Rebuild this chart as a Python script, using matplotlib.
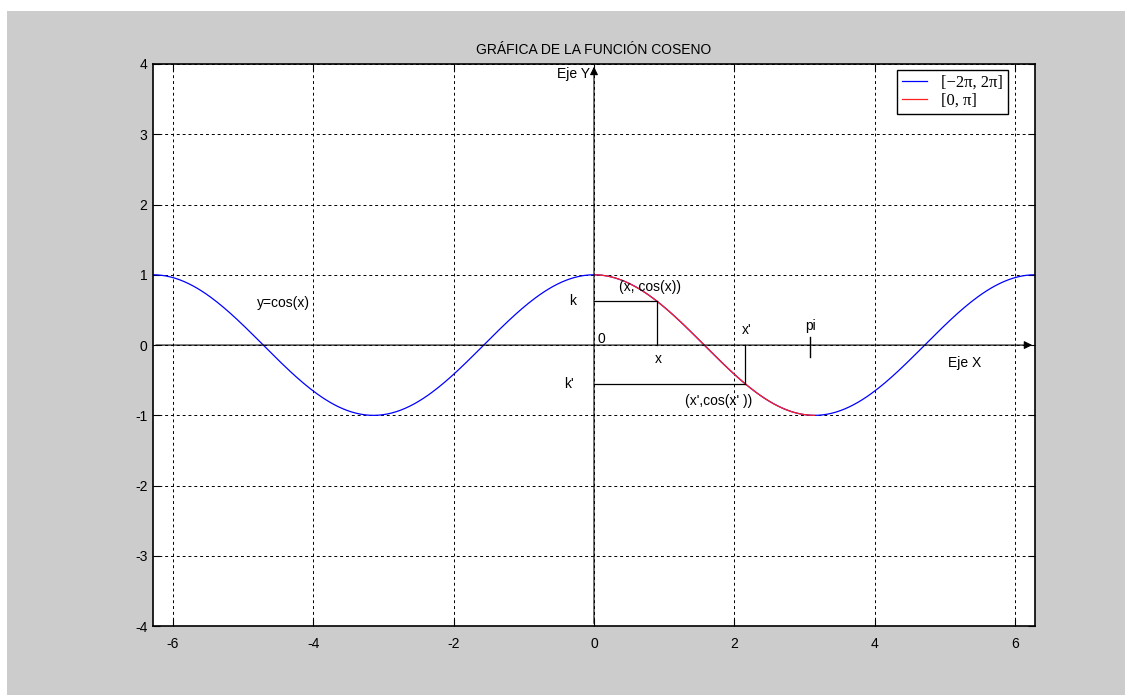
import numpy as np
import matplotlib

matplotlib.use("Agg")
import matplotlib.pyplot as plt
from matplotlib.patches import Rectangle

plt.rcParams["font.family"] = ["Liberation Sans", "DejaVu Sans"]
plt.rcParams["axes.unicode_minus"] = False

# data
x_full = np.linspace(-2 * np.pi, 2 * np.pi, 400)
x_half = np.linspace(0, np.pi, 200)
y_full = np.cos(x_full)
y_half = np.cos(x_half)
x_pt = 0.9          # point (x, cos(x))
x_pt2 = 2.15        # point (x', cos(x'))
pi_mark = 3.08
xticks = [-6, -4, -2, 0, 2, 4, 6]
yticks = [-4, -3, -2, -1, 0, 1, 2, 3, 4]

GRAY = "#cccccc"

fig = plt.figure(figsize=(11.25, 6.95), dpi=100)
fig.patch.set_facecolor("white")
fig.patches.append(Rectangle((7 / 1125, 0), 1, 1 - 11 / 695, transform=fig.transFigure,
                             facecolor=GRAY, edgecolor="none", zorder=-10))
ax = fig.add_axes([0.136, 0.099, 0.784, 0.809])
ax.set_facecolor("white")

ax.plot(x_full, y_full, color="#0000ff", linewidth=0.9, label="[\u22122\u03c0, 2\u03c0]")
ax.plot(x_half, y_half, color="#ff2020", linewidth=0.9, label="[0, \u03c0]")

ax.set_xlim(-2 * np.pi, 2 * np.pi)
ax.set_ylim(-4, 4)
ax.set_xticks(xticks)
ax.set_yticks(yticks)
ax.tick_params(direction="in", length=5, labelsize=10, colors="black", top=True, right=True,
               labeltop=False, labelright=False)
ax.tick_params(axis="x", pad=8)
ax.tick_params(axis="y", pad=4)
ax.grid(True, color="black", linestyle=(0, (3, 3)), linewidth=0.7)
for s in ax.spines.values():
    s.set_linewidth(1.2)

# axes lines with arrows
ax.annotate("", xy=(2 * np.pi, 0), xytext=(-2 * np.pi, 0),
            arrowprops=dict(arrowstyle="-|>", color="black", lw=0.8, mutation_scale=12))
ax.annotate("", xy=(0, 4), xytext=(0, -4),
            arrowprops=dict(arrowstyle="-|>", color="black", lw=0.8, mutation_scale=12))

# construction lines
k1 = np.cos(x_pt)
k2 = np.cos(x_pt2)
ax.plot([0, x_pt], [k1, k1], color="black", lw=0.9)
ax.plot([x_pt, x_pt], [k1, 0], color="black", lw=0.9)
ax.plot([0, x_pt2], [k2, k2], color="black", lw=0.9)
ax.plot([x_pt2, x_pt2], [k2, 0], color="black", lw=0.9)
ax.plot([pi_mark, pi_mark], [0.12, -0.17], color="black", lw=1)

fs = 10
ax.text(-0.05, 3.85, "Eje Y", ha="right", va="center", fontsize=fs)
ax.text(5.05, -0.26, "Eje X", ha="left", va="center", fontsize=fs)
ax.text(-4.8, 0.6, "y=cos(x)", ha="left", va="center", fontsize=fs)
ax.text(-0.3, 0.62, "k", ha="center", va="center", fontsize=fs)
ax.text(0.05, 0.09, "0", ha="left", va="center", fontsize=fs)
ax.text(x_pt + 0.02, -0.2, "x", ha="center", va="center", fontsize=fs)
ax.text(x_pt2 + 0.02, 0.22, "x'", ha="center", va="center", fontsize=fs)
ax.text(pi_mark, 0.27, "pi", ha="center", va="center", fontsize=fs)
ax.text(0.35, 0.82, "(x, cos(x))", ha="left", va="center", fontsize=fs)
ax.text(-0.35, -0.55, "k'", ha="center", va="center", fontsize=fs)
ax.text(1.3, -0.8, "(x',cos(x' ))", ha="left", va="center", fontsize=fs)

ax.set_title("GRÁFICA DE LA FUNCIÓN COSENO", fontsize=10, pad=7)

leg = ax.legend(loc="upper right", bbox_to_anchor=(0.969, 0.989), borderaxespad=0,
                fancybox=False, framealpha=1, edgecolor="black",
                handlelength=1.5, handletextpad=0.8, borderpad=0.3, labelspacing=0.1,
                prop={"family": "Liberation Serif", "size": 12})
leg.get_frame().set_linewidth(1)

fig.savefig("out.png", dpi=100)
